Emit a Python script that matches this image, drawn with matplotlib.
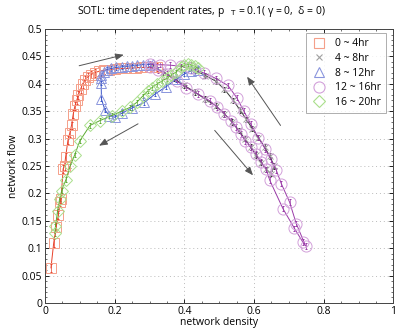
import matplotlib
matplotlib.use("Agg")
import matplotlib.pyplot as plt
from matplotlib.lines import Line2D
from matplotlib.ticker import MultipleLocator

plt.rcParams['font.family'] = ['Open Sans', 'DejaVu Sans']

# ---- data ----
red_x = [0.017, 0.025, 0.032, 0.038, 0.043, 0.046, 0.052, 0.056, 0.059, 0.066, 0.071, 0.076,
         0.081, 0.086, 0.091, 0.096, 0.102, 0.108, 0.115, 0.123, 0.132, 0.142, 0.155, 0.17,
         0.185, 0.2, 0.215, 0.23, 0.245, 0.26, 0.275, 0.29, 0.305, 0.32]
red_y = [0.064, 0.11, 0.139, 0.16, 0.184, 0.19, 0.245, 0.25, 0.266, 0.298, 0.31, 0.324,
         0.345, 0.36, 0.37, 0.38, 0.39, 0.4, 0.407, 0.413, 0.417, 0.42, 0.423, 0.425,
         0.426, 0.427, 0.428, 0.428, 0.429, 0.429, 0.43, 0.43, 0.43, 0.431]

black_x = [0.31, 0.34, 0.37, 0.4, 0.43, 0.46, 0.49, 0.515, 0.537, 0.556, 0.573, 0.59, 0.605,
           0.62, 0.635, 0.648, 0.658, 0.645, 0.63, 0.612, 0.595, 0.578, 0.56, 0.54, 0.515,
           0.49, 0.46, 0.43]
black_y = [0.43, 0.422, 0.41, 0.397, 0.385, 0.372, 0.36, 0.345, 0.33, 0.315, 0.3, 0.285, 0.27,
           0.256, 0.244, 0.236, 0.25, 0.268, 0.285, 0.302, 0.318, 0.335, 0.352, 0.37, 0.39,
           0.405, 0.415, 0.425]

blue_x = [0.31, 0.295, 0.28, 0.265, 0.25, 0.235, 0.22, 0.205, 0.19, 0.178, 0.168, 0.162, 0.16,
          0.161, 0.162, 0.172, 0.185, 0.2, 0.222, 0.25, 0.285, 0.315, 0.348, 0.375, 0.4,
          0.42, 0.44]
blue_y = [0.436, 0.435, 0.435, 0.434, 0.433, 0.432, 0.431, 0.43, 0.428, 0.426, 0.422, 0.416,
          0.41, 0.402, 0.372, 0.352, 0.342, 0.339, 0.347, 0.356, 0.366, 0.381, 0.395, 0.408,
          0.418, 0.424, 0.426]

purple_x = [0.30, 0.325, 0.349, 0.378, 0.406, 0.44, 0.473, 0.495, 0.515, 0.533, 0.548, 0.562,
            0.575, 0.59, 0.605, 0.62, 0.635, 0.645, 0.683, 0.716, 0.74, 0.748, 0.721, 0.702,
            0.678, 0.664, 0.648, 0.632, 0.612, 0.59, 0.57, 0.55, 0.525, 0.49, 0.455, 0.42,
            0.39, 0.36, 0.33, 0.30]
purple_y = [0.431, 0.425, 0.418, 0.405, 0.393, 0.381, 0.369, 0.357, 0.345, 0.333, 0.321, 0.308,
            0.296, 0.284, 0.272, 0.258, 0.244, 0.224, 0.172, 0.136, 0.111, 0.104, 0.145, 0.184,
            0.218, 0.242, 0.262, 0.281, 0.302, 0.327, 0.351, 0.375, 0.397, 0.41, 0.42, 0.428,
            0.432, 0.434, 0.435, 0.436]

green_x = [0.44, 0.43, 0.42, 0.41, 0.40, 0.39, 0.377, 0.363, 0.349, 0.335, 0.32, 0.307, 0.295,
           0.281, 0.263, 0.244, 0.22, 0.191, 0.158, 0.129, 0.1, 0.085, 0.072, 0.06, 0.048,
           0.042, 0.036, 0.03, 0.028]
green_y = [0.428, 0.432, 0.435, 0.436, 0.434, 0.43, 0.422, 0.416, 0.41, 0.405, 0.399, 0.393,
           0.387, 0.378, 0.366, 0.357, 0.35, 0.342, 0.333, 0.324, 0.296, 0.27, 0.25, 0.225,
           0.205, 0.19, 0.168, 0.14, 0.127]

labels = ['0 ~ 4hr', '4 ~ 8hr', '8 ~ 12hr', '12 ~ 16hr', '16 ~ 20hr']
err = [0.007, 0.005, 0.004, 0.005, 0.004]

series = [
    (red_x, red_y, 's', '#e8402a', '#f5a08a', 7),
    (black_x, black_y, 'x', '#333333', '#a0a0a0', 5),
    (blue_x, blue_y, '^', '#3a55c8', '#8a95dd', 7.5),
    (purple_x, purple_y, 'o', '#9a3aa8', '#d2a0da', 8),
    (green_x, green_y, 'D', '#5aaa30', '#aadf8c', 6.5),
]

fig = plt.figure(figsize=(3.95, 3.3), dpi=100)
ax = fig.add_axes([0.114, 0.082, 0.882, 0.830])

for (x, y, m, lc, mc, ms), e in zip(series, err):
    ax.errorbar(x, y, yerr=e, color=lc, lw=0.7, elinewidth=0.5, capsize=1.0, capthick=0.5,
                marker=m, ms=ms, mfc='none', mec=mc, mew=0.7)

# arrows
arrows = [((0.098, 0.433), (0.226, 0.453)),
          ((0.267, 0.327), (0.155, 0.287)),
          ((0.676, 0.324), (0.58, 0.413)),
          ((0.487, 0.315), (0.597, 0.233))]
for (x0, y0), (x1, y1) in arrows:
    ax.annotate('', xy=(x1, y1), xytext=(x0, y0),
                arrowprops=dict(arrowstyle='-|>,head_length=0.5,head_width=0.2',
                                color='#555555', lw=0.7, shrinkA=0, shrinkB=0))

ax.set_xlim(0, 1)
ax.set_ylim(0, 0.5)
ax.set_xticks([0, 0.2, 0.4, 0.6, 0.8, 1])
ax.set_xticklabels(['0', '0.2', '0.4', '0.6', '0.8', '1'])
yt = [0, 0.05, 0.1, 0.15, 0.2, 0.25, 0.3, 0.35, 0.4, 0.45, 0.5]
ax.set_yticks(yt)
ax.set_yticklabels(['0', '0.05', '0.1', '0.15', '0.2', '0.25', '0.3', '0.35', '0.4', '0.45', '0.5'])
ax.xaxis.set_minor_locator(MultipleLocator(0.05))
ax.yaxis.set_minor_locator(MultipleLocator(0.01))
ax.tick_params(which='both', direction='in', top=True, right=True, labelsize=7.5, pad=2)
ax.tick_params(which='major', length=3, width=0.6)
ax.tick_params(which='minor', length=1.5, width=0.4)
ax.grid(True, which='major', linestyle=(0, (1, 3)), color='#bbbbbb', lw=0.7)
for s in ax.spines.values():
    s.set_linewidth(0.7)
    s.set_color('#444444')

ax.set_xlabel('network density', fontsize=7.5, labelpad=0)
ax.set_ylabel('network flow', fontsize=7.5, labelpad=2)
fig.text(0.51, 0.965, 'SOTL: time dependent rates, p$_{\\quad\\mathrm{T}}$ = 0.1( γ = 0,  δ = 0)',
         ha='center', va='center', fontsize=7.5)

handles = [Line2D([], [], ls='none', marker=m, ms=ms, mfc='none', mec=mc, mew=0.8)
           for (x, y, m, lc, mc, ms) in series]
leg = ax.legend(handles, labels, loc='upper right', bbox_to_anchor=(0.98, 0.985),
                fontsize=7.5, frameon=True, fancybox=False, handlelength=1.5,
                borderpad=0.5, labelspacing=0.35, handletextpad=0.8, borderaxespad=0)
leg.get_frame().set_edgecolor('#999999')
leg.get_frame().set_linewidth(0.7)

fig.savefig('out.png', dpi=100)
